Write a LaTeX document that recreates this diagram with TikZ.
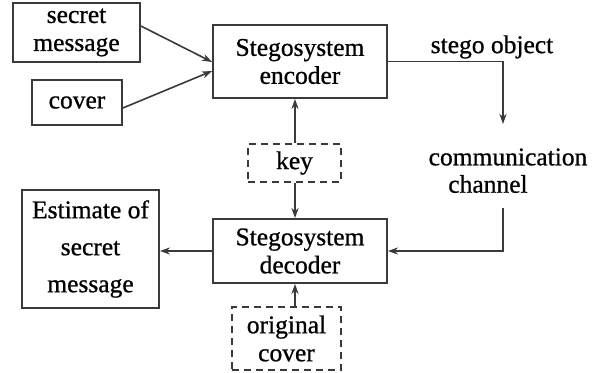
\documentclass[tikz,border=0pt]{standalone}
\usepackage{fontspec}
\setmainfont{Liberation Serif}
\newfontfamily\heavyfont[FakeBold=0.8]{Liberation Serif}
\usetikzlibrary{arrows.meta}
\definecolor{linec}{HTML}{3A3A3A}
\tikzset{
  box/.style={draw=linec, line width=1.8pt, rectangle, inner sep=0pt, align=center,
    font=\heavyfont\fontsize{25.5}{28}\selectfont},
  dbox/.style={box, dash pattern=on 7pt off 5pt},
  lbl/.style={inner sep=0pt, font=\heavyfont\fontsize{25.5}{28}\selectfont},
  arr/.style={draw=linec, line width=1.6pt, -{Stealth[length=10pt,width=7pt,inset=3pt]}}
}
\begin{document}
\begin{tikzpicture}[x=1pt,y=-1pt]
\useasboundingbox (0,0) rectangle (594,372);
\node[box, minimum width=127pt, minimum height=59pt] (sm) at (76.5,32.5) {secret\\message};
\node[box, minimum width=90pt, minimum height=45pt] (cov) at (77,102.5) {cover};
\node[box, minimum width=174pt, minimum height=73pt] (enc) at (300,61.5) {Stegosystem\\encoder};
\node[box, minimum width=174pt, minimum height=64pt] (dec) at (300,251) {Stegosystem\\decoder};
\node[dbox, minimum width=93pt, minimum height=38pt] (key) at (294.5,163) {key};
\node[dbox, minimum width=109pt, minimum height=63pt] (orig) at (286.5,338.5) {original\\cover};
\node[box, minimum width=137pt, minimum height=118pt, font=\heavyfont\fontsize{25.5}{37}\selectfont] (est) at (90.5,249) {Estimate of\\secret\\message};
\node[lbl] (so) at (492,47) {stego object};
\node[lbl] (cm) at (508,157) {communication};
\node[lbl] (ch) at (488,184) {channel};
\coordinate (c1) at (503,124);
\coordinate (c2) at (503,208);
\draw[arr] (sm.east |- 0,26) -- (enc.west |- 0,62);
\draw[arr] (cov.east |- 0,108) -- (enc.west |- 0,71);
\draw[arr] (key.north -| 295,0) -- (enc.south -| 295,0);
\draw[arr] (key.south -| 295,0) -- (dec.north -| 295,0);
\draw[arr] (orig.north -| 295,0) -- (dec.south -| 295,0);
\draw[arr] (enc.east) -| (c1);
\draw[arr] (c2) |- (dec.east);
\draw[arr] (dec.west) -- (est.east |- dec.west);
\end{tikzpicture}
\end{document}
